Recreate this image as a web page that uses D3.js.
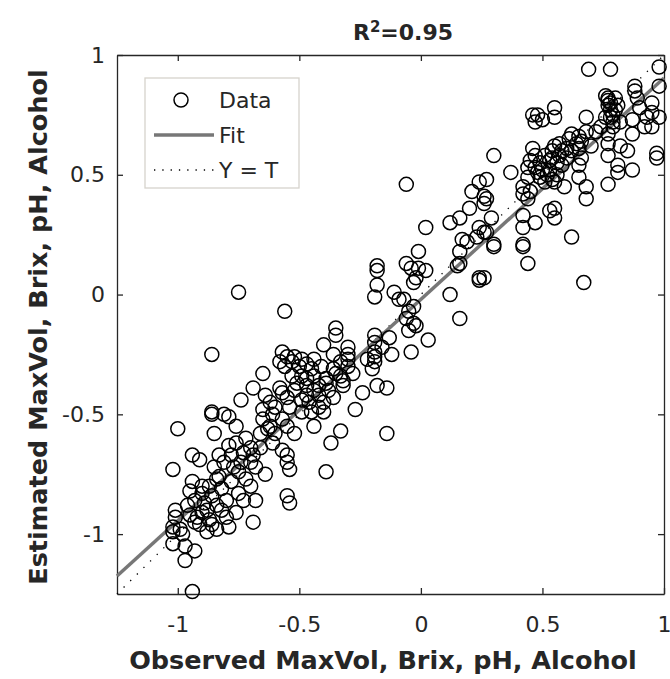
<!DOCTYPE html>
<html>
<head>
<meta charset="utf-8">
<script src="https://cdn.jsdelivr.net/npm/d3@7"></script>
<style>
  body { margin: 0; background: #fff; }
  svg { font-family: "DejaVu Sans", Verdana, sans-serif; }
</style>
</head>
<body>
<svg id="chart" width="670" height="679"></svg>
<script>
// values (observed, estimated)
var observed = [
  0.69, 0.78, 0.98, 0.98, 0.98, 0.97, 0.97, 0.88, 0.88, 0.89, 0.95, 0.95, 0.93, 0.87, 0.87, 0.87,
  0.76, 0.77, 0.77, 0.78, 0.79, 0.76, 0.79, 0.81, 0.82, 0.77, 0.77, 0.82, 0.77, 0.81, 0.81, 0.77,
  0.68, 0.68, 0.65, 0.66, 0.64, 0.65, 0.62, 0.61, 0.60, 0.66, 0.65, 0.65, 0.68, 0.68,
  0.57, 0.55, 0.54, 0.54, 0.57, 0.58, 0.59, 0.53, 0.52, 0.54, 0.55,
  0.48, 0.46, 0.47, 0.50, 0.55, 0.55, 0.46, 0.47, 0.45, 0.47, 0.48, 0.49, 0.51, 0.44, 0.44,
  0.42, 0.45, 0.42, 0.44, 0.37, 0.30, 0.53, 0.55, 0.55, 0.42, 0.47, 0.42, 0.62, 0.42, 0.42,
  0.44, 0.67, 0.30, 0.26, 0.29, 0.27, 0.27, 0.26,
  0.78, 0.80, 0.79, 0.90, 0.92, 0.95, 0.85,
  -0.06, 0.02, 0.12, 0.16, 0.20, 0.21, 0.26, 0.26, 0.24, 0.24, 0.23, 0.19, 0.17, 0.16, 0.16, 0.15,
  0.30, 0.27, 0.24, 0.24, 0.12, 0.16, -0.01, -0.06, -0.04, -0.01, 0.02, -0.02, -0.03, -0.11,
  -0.07, -0.03, -0.05, -0.06, -0.03, -0.02, -0.05, 0.03, -0.04, -0.12, -0.13,
  -0.18, -0.18, -0.18, -0.19, -0.09, -0.19, -0.19, -0.19, -0.19, -0.19, -0.20,
  -0.35, -0.35, -0.40, -0.30, -0.30, -0.30, -0.30, -0.28, -0.44, -0.36, -0.39, -0.32, -0.47,
  -0.24, -0.18, -0.14, -0.27, -0.33, -0.37, -0.14, -0.42, -0.40, -0.44, -0.49,
  -0.49, -0.49, -0.47, -0.45, -0.39, -0.42, -0.38, -0.35, -0.33, -0.32, -0.42, -0.36, -0.45, -0.40,
  -0.75, -0.56, -0.86, -0.86, -0.86, -0.81, -0.85, -1.00, -1.02, -0.94, -0.91,
  -0.74, -0.69, -0.65, -0.57, -0.55, -0.52, -0.58, -0.56, -0.53, -0.53, -0.51, -0.58, -0.57,
  -0.55, -0.49, -0.65, -0.61, -0.57, -0.55, -0.52, -0.63, -0.60, -0.61, -0.57, -0.55, -0.55,
  -0.54, -0.64, -0.69, -0.72, -0.76, -0.79, -0.76, -0.73, -0.78, -0.83, -0.81, -0.85, -0.77,
  -0.75, -0.72, -0.70, -0.75, -0.80, -0.84, -0.87, -0.90, -0.94, -0.95, -0.93, -0.89, -0.84,
  -0.90, -0.87, -0.84, -0.88, -0.93, -0.80, -0.79, -1.01, -1.01, -1.02, -0.99, -1.02, -0.98,
  -1.02, -0.97, -0.93, -0.97, -0.94, -0.69, -0.83, -0.73, -0.68, -0.76, -0.64, -0.65, -0.62,
  -0.55, -0.54, -0.39,
  -0.91, -0.95, -0.86, -0.82, -0.78, -0.70, -0.66, -0.62, -0.60, -0.54, -0.47, -0.44, -0.36, -0.33,
  0.49, 0.51, 0.56, 0.60, 0.70, 0.72, 0.74,
  -0.92, -0.88, -0.86, -0.82, -0.96, -0.90, -0.74, -0.70, -0.68, -0.79, -0.66,
  -0.50, -0.47, -0.44, -0.41, -0.52, -0.46, 0.50, 0.53, 0.58, 0.62, 0.56,
  0.77, 0.80, 0.78, -0.16, -0.22
];
var estimated = [
  0.94, 0.94, 0.95, 0.87, 0.74, 0.59, 0.57, 0.87, 0.85, 0.82, 0.80, 0.76, 0.74, 0.73, 0.67, 0.52,
  0.83, 0.82, 0.79, 0.77, 0.75, 0.74, 0.72, 0.79, 0.72, 0.67, 0.63, 0.62, 0.58, 0.54, 0.51, 0.46,
  0.74, 0.68, 0.66, 0.64, 0.63, 0.61, 0.67, 0.65, 0.61, 0.57, 0.54, 0.49, 0.45, 0.40,
  0.63, 0.62, 0.60, 0.57, 0.58, 0.54, 0.45, 0.52, 0.50, 0.48, 0.47,
  0.75, 0.75, 0.72, 0.73, 0.78, 0.74, 0.61, 0.58, 0.56, 0.53, 0.51, 0.49, 0.47, 0.53, 0.49,
  0.45, 0.43, 0.42, 0.40, 0.51, 0.58, 0.35, 0.36, 0.32, 0.33, 0.30, 0.28, 0.24, 0.21, 0.20,
  0.13, 0.05, 0.21, 0.07, 0.32, 0.40, 0.48, 0.26,
  0.80, 0.77, 0.70, 0.78, 0.70, 0.70, 0.60,
  0.46, 0.28, 0.30, 0.32, 0.36, 0.43, 0.41, 0.38, 0.47, 0.28, 0.24, 0.22, 0.23, 0.18, 0.13, 0.12,
  0.20, 0.26, 0.07, 0.06, 0.00, -0.10, 0.18, 0.13, 0.11, 0.11, 0.10, 0.07, 0.05, 0.01,
  -0.02, -0.05, -0.07, -0.10, -0.12, -0.13, -0.15, -0.19, -0.24, -0.25, -0.18,
  0.12, 0.10, 0.04, -0.01, -0.02, -0.17, -0.20, -0.24, -0.26, -0.28, -0.31,
  -0.14, -0.17, -0.21, -0.22, -0.25, -0.27, -0.30, -0.33, -0.27, -0.31, -0.35, -0.36, -0.35,
  -0.41, -0.38, -0.39, -0.48, -0.57, -0.62, -0.58, -0.47, -0.45, -0.55, -0.49,
  -0.27, -0.34, -0.38, -0.31, -0.37, -0.38, -0.40, -0.33, -0.34, -0.38, -0.42, -0.43, -0.49, -0.49,
  0.01, -0.07, -0.25, -0.49, -0.50, -0.50, -0.58, -0.56, -0.73, -0.67, -0.69,
  -0.44, -0.39, -0.33, -0.24, -0.26, -0.26, -0.28, -0.30, -0.28, -0.34, -0.37, -0.39, -0.41,
  -0.43, -0.44, -0.48, -0.50, -0.52, -0.55, -0.58, -0.56, -0.58, -0.62, -0.65, -0.67, -0.70,
  -0.73, -0.75, -0.67, -0.60, -0.55, -0.51, -0.62, -0.66, -0.67, -0.67, -0.70, -0.72, -0.72,
  -0.74, -0.77, -0.80, -0.83, -0.86, -0.77, -0.80, -0.83, -0.78, -0.82, -0.86, -0.87, -0.88,
  -0.91, -0.94, -0.98, -0.99, -0.95, -0.93, -0.97, -0.90, -0.93, -0.97, -0.98, -0.99, -1.00,
  -1.04, -1.05, -1.07, -1.11, -1.24, -0.95, -0.76, -0.86, -0.86, -0.91, -0.42, -0.52, -0.45,
  -0.84, -0.87, -0.74,
  -0.96, -0.92, -0.84, -0.81, -0.78, -0.70, -0.64, -0.55, -0.47, -0.47, -0.42, -0.40, -0.25, -0.28,
  0.55, 0.58, 0.55, 0.57, 0.62, 0.68, 0.70,
  -0.93, -0.90, -0.96, -0.90, -0.88, -0.80, -0.70, -0.64, -0.72, -0.63, -0.58,
  -0.30, -0.29, -0.34, -0.30, -0.40, -0.45, 0.52, 0.56, 0.60, 0.60, 0.50,
  0.81, 0.82, 0.74, -0.22, -0.27
];
var tickValues = [-1, -0.5, 0, 0.5, 1];
var axisDomain = [-1.25, 1];
var fitSlope = 0.924, fitIntercept = -0.02;
var legendLabels = ["Data", "Fit", "Y = T"];

(function(){
  var svg = d3.select("#chart");
  var m = {left: 117, right: 664, top: 55, bottom: 594};
  var ink = "#262626";

  var x = d3.scaleLinear().domain(axisDomain).range([m.left, m.right]);
  var y = d3.scaleLinear().domain(axisDomain).range([m.bottom, m.top]);

  var points = observed.map(function(d, i){ return {x: d, y: estimated[i]}; });

  svg.append("rect").attr("x", m.left).attr("y", m.top)
    .attr("width", m.right - m.left).attr("height", m.bottom - m.top).attr("fill", "#fff");

  // axes with inward ticks on all four sides
  function styleAxis(g){
    g.selectAll("path.domain").attr("stroke", ink).attr("stroke-width", 1.3);
    g.selectAll(".tick line").attr("stroke", ink).attr("stroke-width", 1.3);
    g.selectAll("text").attr("fill", ink).style("font-size", "22px")
      .style("font-family", "DejaVu Sans, Verdana, sans-serif");
  }
  var fmt = function(d){ return String(d); };

  svg.append("g").attr("transform", "translate(0," + m.bottom + ")")
    .call(d3.axisBottom(x).tickValues(tickValues).tickSize(-6).tickSizeOuter(0).tickFormat(fmt))
    .call(styleAxis)
    .selectAll("text").attr("y", 38).attr("dy", null);

  svg.append("g").attr("transform", "translate(0," + m.top + ")")
    .call(d3.axisTop(x).tickValues(tickValues).tickSize(-6).tickSizeOuter(0).tickFormat(""))
    .call(styleAxis);

  svg.append("g").attr("transform", "translate(" + m.left + ",0)")
    .call(d3.axisLeft(y).tickValues(tickValues).tickSize(-6).tickSizeOuter(0).tickFormat(fmt))
    .call(styleAxis)
    .selectAll("text").attr("x", -12);

  svg.append("g").attr("transform", "translate(" + m.right + ",0)")
    .call(d3.axisRight(y).tickValues(tickValues).tickSize(-6).tickSizeOuter(0).tickFormat(""))
    .call(styleAxis);

  // Y = T dotted line
  svg.append("line")
    .attr("x1", x(axisDomain[0])).attr("y1", y(axisDomain[0]))
    .attr("x2", x(axisDomain[1])).attr("y2", y(axisDomain[1]))
    .attr("stroke", "#000").attr("stroke-width", 1.3).attr("stroke-dasharray", "1.3,8");

  // fit line
  svg.append("line")
    .attr("x1", x(axisDomain[0])).attr("y1", y(fitSlope * axisDomain[0] + fitIntercept))
    .attr("x2", x(axisDomain[1])).attr("y2", y(fitSlope * axisDomain[1] + fitIntercept))
    .attr("stroke", "#777").attr("stroke-width", 3.5);

  // data circles
  svg.append("g").selectAll("circle").data(points).enter().append("circle")
    .attr("cx", function(d){ return x(d.x); })
    .attr("cy", function(d){ return y(d.y); })
    .attr("r", 7)
    .attr("fill", "none").attr("stroke", "#000").attr("stroke-width", 1.5);

  // title
  var title = svg.append("text").attr("x", 403).attr("y", 40)
    .attr("text-anchor", "middle").attr("fill", ink)
    .style("font-size", "22px").style("font-weight", "bold");
  title.append("tspan").text("R");
  title.append("tspan").attr("dy", -8).style("font-size", "15px").text("2");
  title.append("tspan").attr("dy", 8).text("=0.95");

  // axis labels
  svg.append("text").attr("x", 383).attr("y", 669)
    .attr("text-anchor", "middle").attr("fill", ink)
    .style("font-size", "25.5px").style("font-weight", "bold")
    .text("Observed MaxVol, Brix, pH, Alcohol");

  svg.append("text").attr("transform", "translate(47,327) rotate(-90)")
    .attr("text-anchor", "middle").attr("fill", ink)
    .style("font-size", "25.5px").style("font-weight", "bold")
    .text("Estimated MaxVol, Brix, pH, Alcohol");

  // legend
  var lg = svg.append("g");
  lg.append("rect").attr("x", 145).attr("y", 78).attr("width", 154).attr("height", 110)
    .attr("fill", "#fff").attr("stroke", "#d6d3cc").attr("stroke-width", 1.3);
  var rowY = [100, 135, 170];
  lg.append("circle").attr("cx", 181).attr("cy", rowY[0]).attr("r", 7)
    .attr("fill", "none").attr("stroke", "#000").attr("stroke-width", 1.5);
  lg.append("line").attr("x1", 154).attr("x2", 214).attr("y1", rowY[1]).attr("y2", rowY[1])
    .attr("stroke", "#777").attr("stroke-width", 3.5);
  lg.append("line").attr("x1", 154).attr("x2", 214).attr("y1", rowY[2]).attr("y2", rowY[2])
    .attr("stroke", "#000").attr("stroke-width", 1.3).attr("stroke-dasharray", "1.3,7");
  lg.selectAll("text.lab").data(legendLabels).enter().append("text")
    .attr("class", "lab")
    .attr("x", 219).attr("y", function(d, i){ return rowY[i]; }).attr("dy", "0.36em")
    .attr("fill", ink).style("font-size", "22px")
    .text(function(d){ return d; });
})();
</script>
</body>
</html>
